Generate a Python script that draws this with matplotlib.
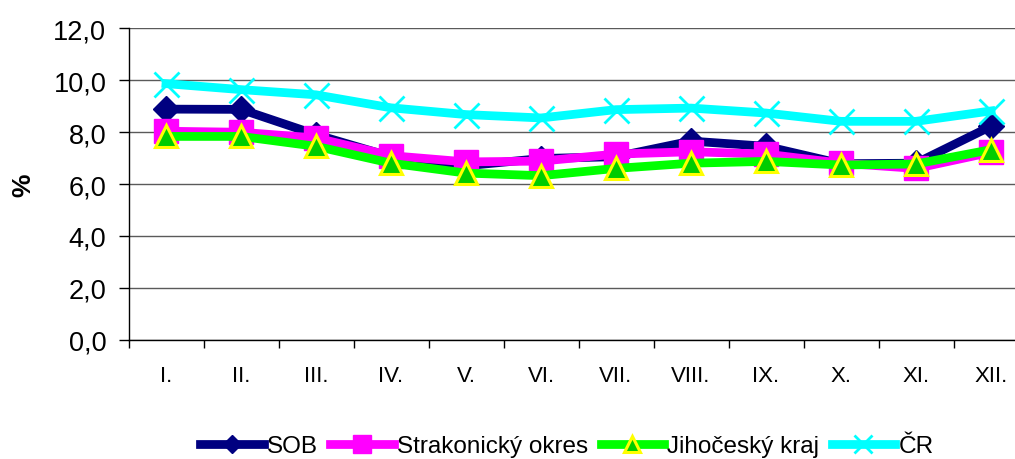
import matplotlib
matplotlib.use("Agg")
import matplotlib.pyplot as plt
from matplotlib.ticker import FixedLocator, NullFormatter

plt.rcParams['font.family'] = ['Liberation Sans', 'DejaVu Sans']

months = ["I.", "II.", "III.", "IV.", "V.", "VI.", "VII.", "VIII.", "IX.", "X.", "XI.", "XII."]
sob = [8.88, 8.87, 7.9, 7.05, 6.7, 6.98, 7.05, 7.65, 7.45, 6.78, 6.8, 8.22]
strakonice = [8.03, 7.99, 7.77, 7.09, 6.85, 6.88, 7.15, 7.24, 7.15, 6.8, 6.6, 7.22]
jihocesky = [7.83, 7.83, 7.45, 6.8, 6.42, 6.32, 6.6, 6.8, 6.87, 6.73, 6.77, 7.32]
cr = [9.86, 9.63, 9.43, 8.93, 8.67, 8.54, 8.86, 8.92, 8.73, 8.41, 8.41, 8.81]
series_names = ["SOB", "Strakonický okres", "Jihočeský kraj", "ČR"]
yticks = [0, 2, 4, 6, 8, 10, 12]

fig = plt.figure(figsize=(10.15, 4.6), dpi=100)
ax = fig.add_axes([128.5 / 1015, 1 - 341 / 460, 900 / 1015, 312 / 460])

x = [i + 0.5 for i in range(len(months))]
lw = 6.3
ax.plot(x, sob, color='#000080', lw=lw, marker='D', markersize=13.5,
        markerfacecolor='#000080', markeredgecolor='#000080', label=series_names[0],
        clip_on=False)
ax.plot(x, strakonice, color='#FF00FF', lw=lw, marker='s', markersize=17.5,
        markerfacecolor='#FF00FF', markeredgecolor='#FF00FF', label=series_names[1],
        clip_on=False)
ax.plot(x, jihocesky, color='#00FF00', lw=lw, marker='^', markersize=16.5,
        markerfacecolor='#00CC00', markeredgecolor='#FFFF00', markeredgewidth=2.2,
        label=series_names[2], clip_on=False)
ax.plot(x, cr, color='#00FFFF', lw=lw, marker='x', markersize=18,
        markeredgecolor='#00FFFF', markeredgewidth=2, label=series_names[3],
        clip_on=False)

ax.set_xlim(0, 12)
ax.set_ylim(0, 12)
ax.set_yticks(yticks)
ax.set_yticklabels([f"{v:.1f}".replace('.', ',') for v in yticks], fontsize=19.5)
ax.xaxis.set_major_locator(FixedLocator(list(range(13))))
ax.xaxis.set_major_formatter(NullFormatter())
ax.xaxis.set_minor_locator(FixedLocator(x))
ax.set_xticklabels(months, minor=True, fontsize=16)
ax.tick_params(axis='x', which='major', length=6, width=1, direction='out')
ax.tick_params(axis='x', which='minor', length=0, pad=18)
ax.tick_params(axis='y', length=7, width=1, direction='out', pad=9)

ax.grid(axis='y', color='#5a5a5a', lw=1)
ax.set_axisbelow(True)
for s in ['top', 'right']:
    ax.spines[s].set_visible(False)
for s in ['left', 'bottom']:
    ax.spines[s].set_color('black')
    ax.spines[s].set_linewidth(1)

ax.set_ylabel('%', fontsize=19, fontweight='bold', labelpad=13)

leg = fig.legend(loc='center', bbox_to_anchor=(567 / 1015, 1 - 447 / 460), ncol=4,
                 frameon=False, fontsize=17.5, handlelength=2.6, handletextpad=0.15,
                 columnspacing=0.5, markerscale=0.7, borderaxespad=0)

fig.savefig('out.png', dpi=100)
